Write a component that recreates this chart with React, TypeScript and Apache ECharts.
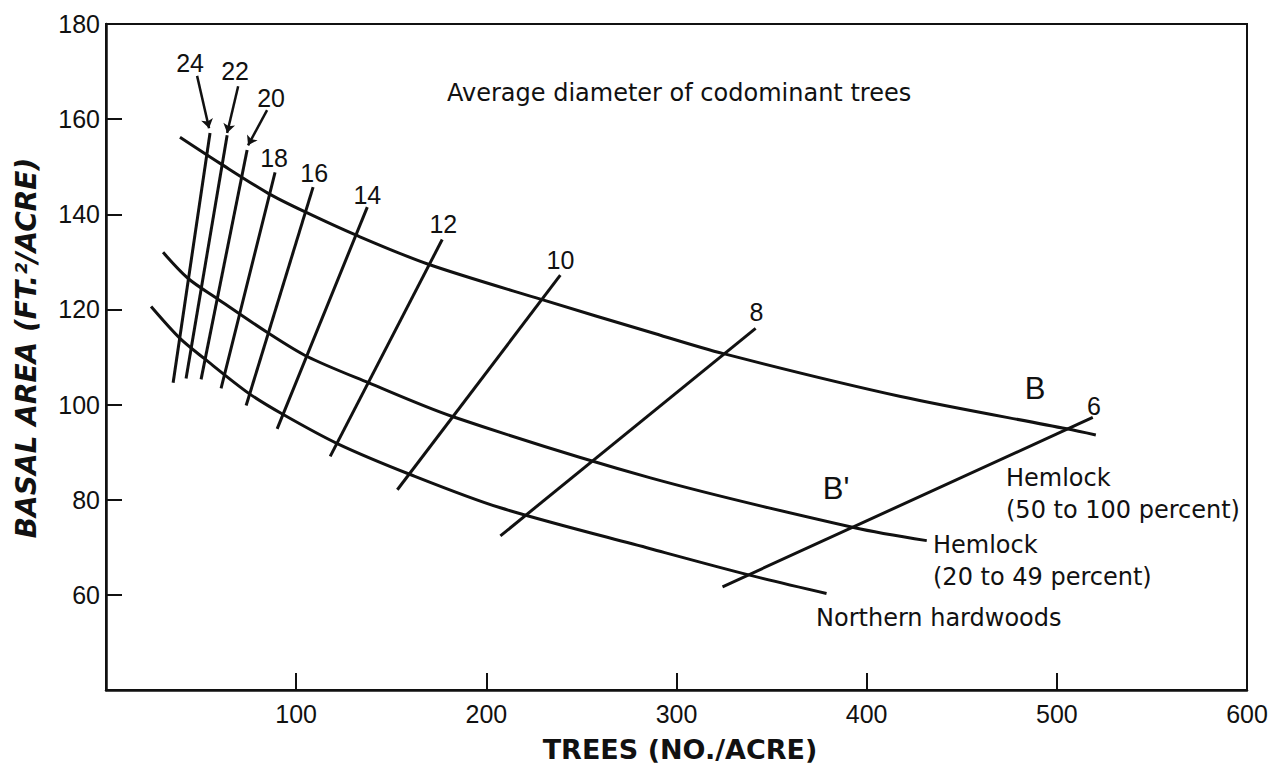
import React, { useEffect, useRef } from "react";
import * as echarts from "echarts";

// Stand-density curves (trees per acre, basal area ft²/acre)
const hemlock50to100: [number, number][] = [
  [38.9, 156.2], [60.0, 150.7], [85.3, 144.4], [104.2, 140.6], [131.6, 135.6],
  [169.5, 129.5], [228.9, 122.1], [286.3, 115.2], [324.7, 110.7], [417.9, 101.7],
  [505.3, 94.9], [520.5, 93.6],
];
const hemlock20to49: [number, number][] = [
  [30.0, 132.0], [43.2, 126.5], [58.4, 122.3], [84.7, 115.2], [105.8, 110.1],
  [137.9, 104.6], [182.1, 97.5], [286.3, 84.6], [393.7, 74.1], [431.6, 71.4],
];
const northernHardwoods: [number, number][] = [
  [23.7, 120.6], [38.9, 113.9], [51.6, 109.7], [75.3, 102.3], [93.2, 97.9],
  [121.6, 91.8], [160.0, 85.3], [207.4, 78.3], [286.3, 69.7], [337.9, 64.2],
  [378.9, 60.3],
];

// Average diameter of codominant trees (inches): iso-diameter lines
const diameters = ["24", "22", "20", "18", "16", "14", "12", "10", "8", "6"];
const diameterBottom: [number, number][] = [
  [35.3, 104.6], [42.1, 105.5], [50.0, 105.3], [60.5, 103.4], [73.7, 99.8],
  [90.0, 94.9], [117.9, 89.1], [153.2, 82.1], [207.4, 72.4], [324.2, 61.7],
];
const diameterTop: [number, number][] = [
  [54.7, 157.1], [63.7, 156.6], [74.2, 153.5], [88.9, 148.8], [108.9, 145.7],
  [137.4, 141.5], [176.8, 134.7], [238.9, 127.2], [341.6, 116.0], [518.9, 97.3],
];
const diameterLabelPos: [number, number][] = [
  [44.2, 171.8], [67.9, 170.1], [86.8, 164.4], [88.4, 151.8], [109.5, 148.6],
  [137.4, 144.0], [177.4, 137.9], [239.0, 130.3], [342.1, 119.4], [519.5, 99.8],
];
// Pointer arrows for the crowded labels 24, 22, 20
const arrowFrom: [number, number][] = [[47.9, 169.1], [69.5, 166.9], [84.7, 161.9]];
const arrowTo: [number, number][] = [[54.2, 158.1], [63.7, 157.1], [74.7, 154.5]];

const xMin = 0, xMax = 600, xStep = 100;
const yMin = 40, yMax = 180, yStep = 20;

const INK = "#111";

export default function App() {
  const ref = useRef<HTMLDivElement>(null);

  useEffect(() => {
    if (!ref.current) return;
    const chart = echarts.init(ref.current, null, { renderer: "svg" });

    const curveStyle = (data: [number, number][], name: string) => ({
      type: "line",
      name,
      data,
      smooth: 0.3,
      showSymbol: false,
      symbol: "none",
      lineStyle: { color: INK, width: 3, opacity: 1 },
      z: 3,
    });

    const diameterSeries = diameters.map((d, i) => ({
      type: "line",
      name: "d" + d,
      data: [diameterBottom[i], diameterTop[i]],
      showSymbol: false,
      symbol: "none",
      lineStyle: { color: INK, width: 3, opacity: 1 },
      z: 3,
    }));

    const option: any = {
      animation: false,
      backgroundColor: "#fff",
      grid: {
        left: 106,
        right: 31,
        top: 24,
        bottom: 82,
        show: true,
        borderColor: INK,
        borderWidth: 2,
      },
      xAxis: {
        type: "value",
        min: xMin,
        max: xMax,
        interval: xStep,
        splitLine: { show: false },
        axisLine: { show: true, onZero: false, lineStyle: { color: INK, width: 2.5 } },
        axisTick: { show: true, inside: true, length: 17, lineStyle: { color: INK, width: 2 } },
        axisLabel: {
          showMinLabel: false,
          color: INK,
          fontFamily: "Liberation Sans",
          fontSize: 25,
          margin: 11,
        },
      },
      yAxis: {
        type: "value",
        min: yMin,
        max: yMax,
        interval: yStep,
        splitLine: { show: false },
        axisLine: { show: true, onZero: false, lineStyle: { color: INK, width: 2.5 } },
        axisTick: { show: true, inside: true, length: 16, lineStyle: { color: INK, width: 2 } },
        axisLabel: {
          showMinLabel: false,
          color: INK,
          fontFamily: "Liberation Sans",
          fontSize: 25,
          margin: 6,
        },
      },
      series: [
        curveStyle(hemlock50to100, "Hemlock (50 to 100 percent)"),
        curveStyle(hemlock20to49, "Hemlock (20 to 49 percent)"),
        curveStyle(northernHardwoods, "Northern hardwoods"),
        ...diameterSeries,
        {
          type: "lines",
          coordinateSystem: "cartesian2d",
          symbol: ["none", "arrow"],
          symbolSize: 9,
          lineStyle: { color: INK, width: 2.5, curveness: 0, opacity: 1 },
          itemStyle: { color: INK, opacity: 1 },
          data: arrowFrom.map((f, i) => ({ coords: [f, arrowTo[i]] })),
          z: 4,
        },
        {
          type: "scatter",
          symbolSize: 0,
          itemStyle: { opacity: 1, color: INK },
          data: diameters.map((d, i) => ({ name: d, value: diameterLabelPos[i] })),
          label: {
            show: true,
            position: "inside",
            formatter: "{b}",
            color: INK,
            opacity: 1,
            fontFamily: "Liberation Sans",
            fontSize: 25,
          },
          z: 5,
        },
      ],
      graphic: [
        {
          type: "text",
          x: 447,
          y: 93,
          style: {
            text: "Average diameter of codominant trees",
            font: "24px 'DejaVu Sans'",
            fill: INK,
            align: "left",
            verticalAlign: "middle",
          },
        },
        {
          type: "text",
          x: 1035,
          y: 388,
          style: {
            text: "B",
            font: "31px 'Liberation Sans'",
            fill: INK,
            align: "center",
            verticalAlign: "middle",
          },
        },
        {
          type: "text",
          x: 836,
          y: 488,
          style: {
            text: "B'",
            font: "31px 'Liberation Sans'",
            fill: INK,
            align: "center",
            verticalAlign: "middle",
          },
        },
        {
          type: "text",
          x: 1006,
          y: 462,
          style: {
            text: "Hemlock\n(50 to 100 percent)",
            font: "24px 'DejaVu Sans'",
            lineHeight: 32,
            fill: INK,
            align: "left",
            verticalAlign: "top",
          },
        },
        {
          type: "text",
          x: 933,
          y: 529,
          style: {
            text: "Hemlock\n(20 to 49 percent)",
            font: "24px 'DejaVu Sans'",
            lineHeight: 32,
            fill: INK,
            align: "left",
            verticalAlign: "top",
          },
        },
        {
          type: "text",
          x: 816,
          y: 618,
          style: {
            text: "Northern hardwoods",
            font: "24px 'DejaVu Sans'",
            fill: INK,
            align: "left",
            verticalAlign: "middle",
          },
        },
        {
          type: "text",
          x: 680,
          y: 749,
          style: {
            text: "TREES (NO./ACRE)",
            font: "bold 27px 'DejaVu Sans'",
            fill: INK,
            align: "center",
            verticalAlign: "middle",
          },
        },
        {
          type: "text",
          x: 26,
          y: 348,
          rotation: Math.PI / 2,
          style: {
            text: "BASAL AREA (FT.²/ACRE)",
            font: "italic bold 28px 'DejaVu Sans'",
            fill: INK,
            align: "center",
            verticalAlign: "middle",
          },
        },
      ],
    };

    chart.setOption(option);
    return () => chart.dispose();
  }, []);

  return (
    <div
      ref={ref}
      style={{ position: "absolute", left: 0, top: 0, width: 1278, height: 772, background: "#fff" }}
    />
  );
}
